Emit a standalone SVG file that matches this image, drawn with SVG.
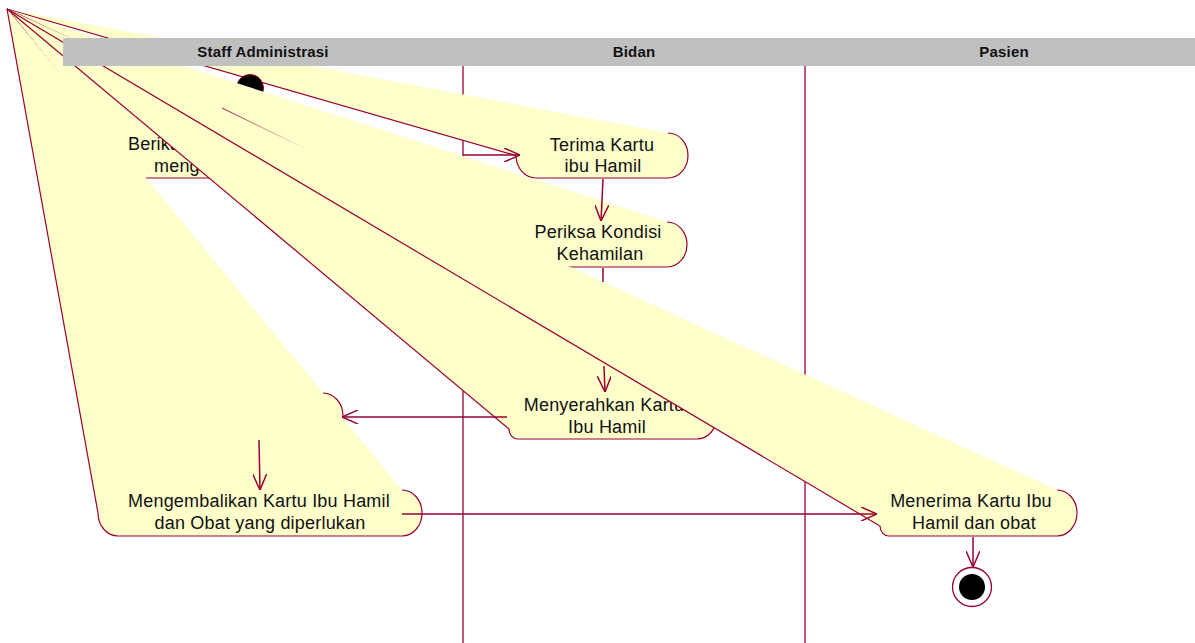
<svg xmlns="http://www.w3.org/2000/svg" width="1195" height="643" viewBox="0 0 1195 643">
<style>
.lane{stroke:#990033;stroke-width:1.3;fill:none}
.fan{fill:#FFFFCC;stroke:#990033;stroke-width:1.2}
.lbl{font-family:"Liberation Sans",Arial,sans-serif;font-size:18px;fill:#111;text-anchor:middle;letter-spacing:0.2px}
.lbs{font-family:"Liberation Sans",Arial,sans-serif;font-size:18px;fill:#111;letter-spacing:0.2px}
.hdr{font-family:"Liberation Sans",Arial,sans-serif;font-size:15px;font-weight:bold;fill:#111;text-anchor:middle;letter-spacing:0.2px}
.conn{fill:none;stroke:#990033;stroke-width:1.5;marker-end:url(#arr)}
</style>
<defs>
<marker id="arr" viewBox="0 0 16 14" refX="16" refY="7" markerWidth="16" markerHeight="14" markerUnits="userSpaceOnUse" orient="auto">
<path d="M0,0 L16,7 L0,14" fill="none" stroke="#990033" stroke-width="1.5"/>
</marker>
<linearGradient id="fade" gradientUnits="userSpaceOnUse" x1="222" y1="108" x2="308" y2="150">
<stop offset="0" stop-color="#990033" stop-opacity="0.9"/>
<stop offset="1" stop-color="#990033" stop-opacity="0"/>
</linearGradient>
</defs>
<rect width="1195" height="643" fill="#fff"/>
<g id="lanes">
<line class="lane" x1="463" y1="66" x2="463" y2="643"/>
<line class="lane" x1="805" y1="66" x2="805" y2="643"/>
</g>
<g id="node-berikan">
<path class="fan" d="M7,9 L125,155.5 A20,22.5 0 0 0 145,178 L280,178 A20,22.5 0 0 0 280,133"/>
<text class="lbs" x="128" y="150">Berika</text>
<text class="lbs" x="154" y="172">meng</text>
</g>
<g id="node-terima">
<path class="fan" d="M7,9 L516,155.5 A20,22.5 0 0 0 536,178 L668,178 A20,22.5 0 0 0 668,133"/>
<text class="lbl" x="602" y="151">Terima Kartu</text>
<text class="lbl" x="603" y="172">ibu Hamil</text>
</g>
<g id="initial-state">
<circle cx="250" cy="88" r="13.5" fill="#000" stroke="#990033" stroke-width="1"/>
</g>
<g id="node-periksa">
<path class="fan" d="M7,9 L510,244.5 A20,22.5 0 0 0 530,267 L667,267 A20,22.5 0 0 0 667,222"/>
<text class="lbl" x="598" y="238">Periksa Kondisi</text>
<text class="lbl" x="600" y="260">Kehamilan</text>
</g>
<g id="node-hidden">
<path class="fan" d="M7,9 L150,416 A20,23 0 0 0 170,439 L323,439 A20,23 0 0 0 323,393"/>
</g>
<g id="node-menyerahkan">
<path class="fan" d="M7,9 L509,429 A9,10 0 0 0 518,439 L697,439 A20,23 0 0 0 697,393"/>
<text class="lbl" x="604" y="411">Menyerahkan Kartu</text>
<text class="lbl" x="607" y="433">Ibu Hamil</text>
</g>
<g id="node-menerima">
<path class="fan" d="M7,9 L880,526 A9,10 0 0 0 889,536 L1057,536 A20,23 0 0 0 1057,490"/>
<text class="lbl" x="971" y="507">Menerima Kartu Ibu</text>
<text class="lbl" x="974" y="529">Hamil dan obat</text>
</g>
<g id="periksa-edge">
<line x1="222" y1="108" x2="308" y2="150" stroke="url(#fade)" stroke-width="1"/>
</g>
<g id="node-mengembalikan">
<path class="fan" d="M7,9 L98,513 A20,23 0 0 0 118,536 L402,536 A20,23 0 0 0 402,490"/>
<text class="lbl" x="259" y="507">Mengembalikan Kartu Ibu Hamil</text>
<text class="lbl" x="260" y="529">dan Obat yang diperlukan</text>
</g>
<g id="final-state">
<circle cx="972" cy="587" r="19.5" fill="#fff" stroke="#990033" stroke-width="1.3"/>
<circle cx="972" cy="587" r="13" fill="#000"/>
</g>
<g id="connectors">
<path class="conn" d="M463,155 L520,155"/>
<path class="conn" d="M603,179 L601,221"/>
<path class="conn" d="M603,268 L603,282 M604,366 L605,392"/>
<path class="conn" d="M507,417 L342,417"/>
<path class="conn" d="M259,440 L260,490"/>
<path class="conn" d="M402,514 L877,514"/>
<path class="conn" d="M973,537 L973,567"/>
</g>
<g id="header">
<rect x="63" y="38" width="1132" height="28" fill="#C0C0C0"/>
<text class="hdr" x="263" y="57">Staff Administrasi</text>
<text class="hdr" x="634" y="57">Bidan</text>
<text class="hdr" x="1004" y="57">Pasien</text>
</g>
</svg>
